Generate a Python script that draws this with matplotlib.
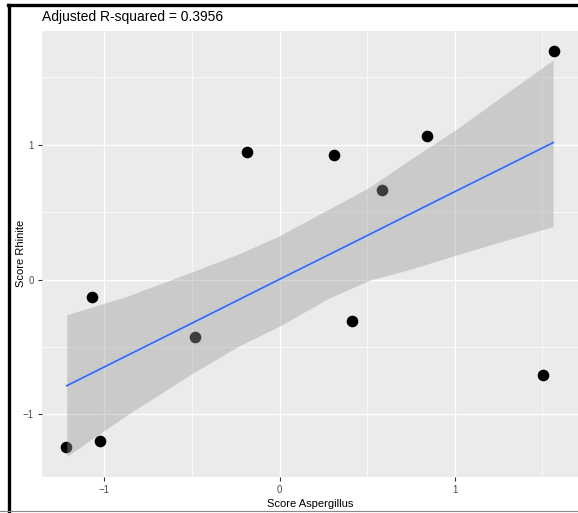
import matplotlib
matplotlib.use("Agg")
import matplotlib.pyplot as plt
from matplotlib.lines import Line2D
import numpy as np

plt.rcParams['font.family'] = ['Liberation Sans', 'DejaVu Sans']

# scores
score_aspergillus = [-1.217, -1.073, -1.027, -0.482, -0.183, 0.310, 0.583, 0.840, 0.412, 1.507, 1.565]
score_rhinite = [-1.244, -0.133, -1.193, -0.429, 0.945, 0.923, 0.663, 1.065, -0.309, -0.707, 1.692]
title_text = "Adjusted R-squared = 0.3956"

# smoother (lm fit) and its confidence band
smooth_x = [-1.215, -0.876, -0.495, -0.229, 0.0, 0.286, 0.514, 0.743, 1.0, 1.257, 1.562]
smooth_fit = [-0.787, -0.567, -0.320, -0.147, 0.002, 0.187, 0.335, 0.484, 0.651, 0.817, 1.015]
smooth_lower = [-1.311, -1.008, -0.693, -0.490, -0.345, -0.135, -0.005, 0.075, 0.178, 0.278, 0.393]
smooth_upper = [-0.261, -0.126, 0.059, 0.192, 0.325, 0.525, 0.685, 0.887, 1.105, 1.345, 1.627]

fig = plt.figure(figsize=(5.78, 5.13), dpi=100)
ax = fig.add_axes([42 / 578, 36.3 / 513, 1 - 42 / 578, (476.7 - 31) / 513])
ax.set_facecolor('#EBEBEB')

ax.set_xticks([-1, 0, 1])
ax.set_xticks([-0.5, 0.5, 1.5], minor=True)
ax.set_yticks([-1, 0, 1])
ax.set_yticks([-0.5, 0.5, 1.5], minor=True)
ax.grid(which='major', color='white', linewidth=1.0)
ax.grid(which='minor', color='white', linewidth=0.5)
ax.set_axisbelow(True)

ax.scatter(score_aspergillus, score_rhinite, s=70, color='black', zorder=2, linewidths=0)
ax.fill_between(smooth_x, smooth_lower, smooth_upper, color='#999999', alpha=0.4,
                linewidth=0, zorder=3)
ax.plot(smooth_x, smooth_fit, color='#3366FF', linewidth=1.2, zorder=4)

# ggplot style 5% expansion
x = np.array(score_aspergillus)
xr = x.max() - x.min()
ax.set_xlim(x.min() - 0.05 * xr, x.max() + 0.05 * xr)
ymin = min(min(score_rhinite), min(smooth_lower))
ymax = max(max(score_rhinite), max(smooth_upper))
yr = ymax - ymin
ax.set_ylim(ymin - 0.05 * yr, ymax + 0.05 * yr)

for sp in ax.spines.values():
    sp.set_visible(False)
ax.tick_params(which='major', length=3, width=0.8, color='#333333',
               labelcolor='#4D4D4D', labelsize=7, pad=3)
ax.tick_params(which='minor', length=0)

ax.set_xlabel('Score Aspergillus', fontsize=8, labelpad=3)
ax.set_ylabel('Score Rhinite', fontsize=8)
ax.yaxis.set_label_coords(-16 / 536, 0.5)
fig.text(42 / 578, 1 - 21.5 / 513, title_text, fontsize=10, ha='left', va='baseline')

# screenshot frame
fig.add_artist(Line2D([8.5 / 578, 8.5 / 578], [0, 1 - 4.5 / 513], color='black',
                      linewidth=2.4, transform=fig.transFigure))
fig.add_artist(Line2D([7.5 / 578, 1], [1 - 4.5 / 513, 1 - 4.5 / 513], color='black',
                      linewidth=2.4, transform=fig.transFigure))
fig.add_artist(Line2D([0, 1], [2.5 / 513, 2.5 / 513], color='#888888',
                      linewidth=0.8, transform=fig.transFigure))

fig.savefig('out.png', dpi=100)
